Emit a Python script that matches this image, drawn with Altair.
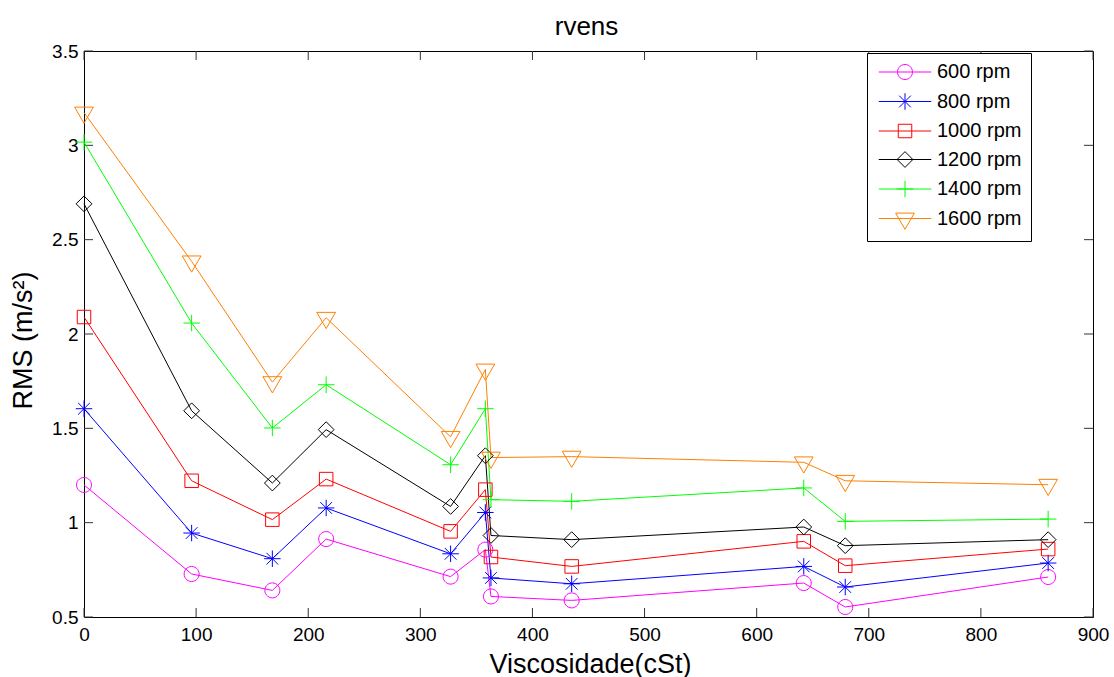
import math
import altair as alt
import pandas as pd

# ---- data ----
viscosidade = [0, 96, 168, 216, 327, 358, 363, 435, 642, 679, 860]
series = ["600 rpm", "800 rpm", "1000 rpm", "1200 rpm", "1400 rpm", "1600 rpm"]
rms_600 = [1.20, 0.728, 0.641, 0.913, 0.714, 0.857, 0.609, 0.588, 0.680, 0.553, 0.712]
rms_800 = [1.604, 0.945, 0.809, 1.078, 0.835, 1.054, 0.707, 0.676, 0.768, 0.659, 0.786]
rms_1000 = [2.09, 1.222, 1.016, 1.231, 0.954, 1.175, 0.818, 0.768, 0.901, 0.772, 0.860]
rms_1200 = [2.69, 1.593, 1.210, 1.493, 1.086, 1.355, 0.932, 0.910, 0.977, 0.878, 0.910]
rms_1400 = [3.017, 2.058, 1.502, 1.731, 1.307, 1.604, 1.122, 1.113, 1.184, 1.007, 1.019]
rms_1600 = [3.174, 2.385, 1.745, 2.086, 1.455, 1.812, 1.345, 1.350, 1.320, 1.222, 1.201]
x_ticks = [0, 100, 200, 300, 400, 500, 600, 700, 800, 900]
y_ticks = [0.5, 1.0, 1.5, 2.0, 2.5, 3.0, 3.5]
chart_title = "rvens"

colors = ["#ff00ff", "#0000ff", "#ff0000", "#000000", "#00ff00", "#ff8000"]

all_vals = [rms_600, rms_800, rms_1000, rms_1200, rms_1400, rms_1600]
rows = []
for s, vals in zip(series, all_vals):
    for xv, yv in zip(viscosidade, vals):
        rows.append({"x": xv, "rms": yv, "serie": s})
df = pd.DataFrame(rows)
xt_df = pd.DataFrame({"x": x_ticks})
yt_df = pd.DataFrame({"rms": y_ticks})
title_df = pd.DataFrame({"t": [chart_title]})

# ---- marker shapes (unit = half marker width) ----
def poly(pts):
    return "M" + "L".join(f"{a:.3f},{b:.3f}" for a, b in pts) + "Z"

circle = poly([(math.cos(2 * math.pi * k / 28), math.sin(2 * math.pi * k / 28)) for k in range(28)])
asterisk = "M-1.1,0H1.1M0,-1.1V1.1M-0.78,-0.78L0.78,0.78M-0.78,0.78L0.78,-0.78"
square = "M-0.9,-0.9H0.9V0.9H-0.9Z"
diamond = "M-1.05,0L0,-1.05L1.05,0L0,1.05Z"
plus = "M-1.1,0H1.1M0,-1.1V1.1"
tri_down = "M-1.25,-0.72L1.25,-0.72L0,1.44Z"
markers = [circle, asterisk, square, diamond, plus, tri_down]
legend_shapes = ["M-3.5,0H3.5" + m for m in markers]

FONT = "Liberation Sans"
W, H = 1009, 566

x_enc = alt.X(
    "x:Q",
    scale=alt.Scale(domain=[0, 900], nice=False, zero=False),
    axis=alt.Axis(
        values=x_ticks, format="d", title="Viscosidade(cSt)", grid=False, domain=False,
        ticks=False, labelPadding=8, labelFontSize=19, labelFont=FONT, labelColor="black",
        labelFlush=False, labelOverlap=False, titleFontSize=27, titleFont=FONT,
        titleFontWeight="normal", titleColor="black", titleX=506, titleY=55,
        titleBaseline="alphabetic", titleAlign="center",
    ),
)
y_enc = alt.Y(
    "rms:Q",
    scale=alt.Scale(domain=[0.5, 3.5], nice=False, zero=False),
    axis=alt.Axis(
        values=y_ticks, format="~g", title="RMS (m/s²)", grid=False, domain=False,
        ticks=False, labelPadding=6, labelFontSize=19, labelFont=FONT, labelColor="black",
        labelFlush=False, labelOverlap=False, titleFontSize=27, titleFont=FONT,
        titleFontWeight="normal", titleColor="black", titleX=-53, titleY=289,
        titleBaseline="alphabetic", titleAlign="center", titleAngle=-90,
    ),
)

color_scale = alt.Scale(domain=series, range=colors)

lines = alt.Chart(df).mark_line(strokeWidth=1).encode(
    x=x_enc, y=y_enc,
    color=alt.Color("serie:N", scale=color_scale, legend=None),
    detail="serie:N",
)
points = alt.Chart(df).mark_point(filled=False, size=225, strokeWidth=1, opacity=1).encode(
    x=x_enc, y=y_enc,
    color=alt.Color("serie:N", scale=color_scale, legend=None),
    shape=alt.Shape("serie:N", scale=alt.Scale(domain=series, range=markers), legend=None),
)
leg = alt.Legend(
    title=None, orient="none", legendX=783, legendY=2, padding=9,
    strokeColor="black", fillColor="white", labelFontSize=20, labelFont=FONT,
    labelColor="black", symbolSize=225, symbolStrokeWidth=1, symbolOffset=19,
    labelOffset=22, rowPadding=8.5, labelLimit=300,
)
legend_layer = alt.Chart(df).transform_filter("datum.rms < 0").mark_point(
    filled=False, size=225, strokeWidth=1, opacity=1
).encode(
    x=x_enc, y=y_enc,
    color=alt.Color("serie:N", scale=color_scale, legend=leg),
    shape=alt.Shape("serie:N", scale=alt.Scale(domain=series, range=legend_shapes), legend=leg),
)

TL = 9
tick_style = dict(color="#333333", strokeWidth=1)
xt_bottom = alt.Chart(xt_df).mark_rule(**tick_style).encode(x=x_enc, y=alt.value(H), y2=alt.value(H - TL))
xt_top = alt.Chart(xt_df).mark_rule(**tick_style).encode(x=x_enc, y=alt.value(0), y2=alt.value(TL))
yt_left = alt.Chart(yt_df).mark_rule(**tick_style).encode(y=y_enc, x=alt.value(0), x2=alt.value(TL))
yt_right = alt.Chart(yt_df).mark_rule(**tick_style).encode(y=y_enc, x=alt.value(W), x2=alt.value(W - TL))

# chart title drawn as a text mark centred above the plot frame
title_text = alt.Chart(title_df).mark_text(
    font=FONT, fontSize=26, color="black", align="center", baseline="alphabetic"
).encode(text="t:N", x=alt.value(W / 2 - 2), y=alt.value(-16))

chart = (
    alt.layer(xt_bottom, xt_top, yt_left, yt_right, lines, points, legend_layer, title_text)
    .resolve_scale(color="independent", shape="independent")
    .properties(
        width=W, height=H,
        padding={"left": 84, "top": 51, "right": 21, "bottom": 60},
        autosize=alt.AutoSizeParams(type="none"),
        background="white",
    )
    .configure_view(stroke="black", strokeWidth=1)
)

chart.save("out.html", embed_options={"renderer": "svg", "actions": False})
